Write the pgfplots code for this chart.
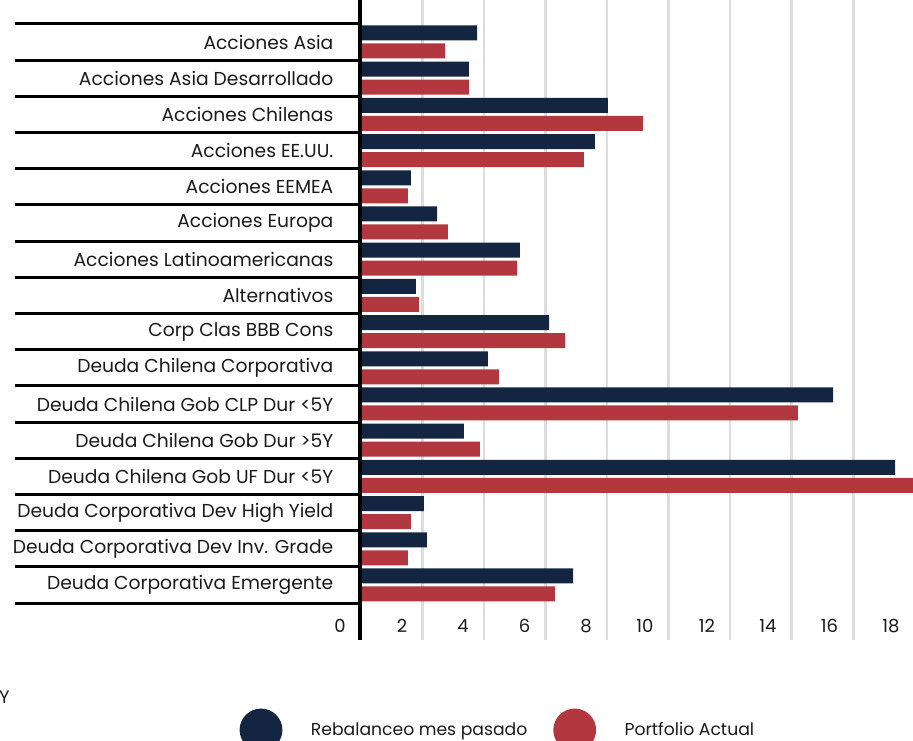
\documentclass[border=0pt]{standalone}
\usepackage{pgfplots}
\pgfplotsset{compat=1.18}
\usepackage{fontspec}
\setmainfont{Poppins}
\definecolor{navy}{HTML}{142542}
\definecolor{brick}{HTML}{B3373E}
\definecolor{gridgray}{HTML}{DDDDDD}
\definecolor{txt}{HTML}{1A1A1A}
\begin{document}
\begin{tikzpicture}
\path[use as bounding box] (0pt,0pt) rectangle (913pt,741pt);
\begin{axis}[
  at={(360.8pt,101pt)}, anchor=south west,
  scale only axis, width=553.9pt, height=640pt,
  xmin=0, xmax=18, ymin=-1.52, ymax=16.16,
  clip=false,
  axis line style={draw=none},
  tick style={draw=none},
  xtick={0,2,...,18},
  xmajorgrids, grid style={gridgray, line width=2.7pt},
  ytick={0,...,15},
  yticklabels={Deuda Corporativa Emergente, Deuda Corporativa Dev Inv. Grade,
    Deuda Corporativa Dev High Yield, Deuda Chilena Gob UF Dur <5Y,
    Deuda Chilena Gob Dur >5Y, Deuda Chilena Gob CLP Dur <5Y,
    Deuda Chilena Corporativa, Corp Clas BBB Cons, Alternativos,
    Acciones Latinoamericanas, Acciones Europa, Acciones EEMEA,
    Acciones EE.UU., Acciones Chilenas, Acciones Asia Desarrollado, Acciones Asia},
  /pgf/number format/assume math mode=true,
  every tick label/.append style={text=txt},
  xticklabel style={font=\fontsize{18}{20}\selectfont, anchor=base east, inner sep=0pt, xshift=-15pt, yshift=7.3pt},
  yticklabel style={font=\fontsize{18.7}{21}\selectfont, inner sep=0pt, xshift=-23pt},
  xbar, bar width=15pt,
  legend columns=2,
  legend style={at={(-0.2188,-0.1406)}, anchor=west, draw=none, fill=none,
    inner sep=0pt, outer sep=0pt,
    font=\fontsize{17.2}{20}\selectfont, text=txt,
    /tikz/every odd column/.append style={column sep=26.5pt},
    /tikz/every even column/.append style={column sep=24pt}},
  legend image code/.code={\fill[#1] (0pt,0pt) circle (21.4pt);},
]
\addplot[draw=none, fill=navy, bar shift=9pt] coordinates {
  (6.90,0) (2.15,1) (2.05,2) (17.36,3) (3.35,4) (15.35,5) (4.13,6) (6.12,7)
  (1.79,8) (5.17,9) (2.48,10) (1.63,11) (7.61,12) (8.03,13) (3.51,14) (3.78,15)
};
\addlegendentry{Rebalanceo mes pasado}
\addplot[draw=none, fill=brick, bar shift=-9pt] coordinates {
  (6.31,0) (1.53,1) (1.63,2) (18.3,3) (3.87,4) (14.20,5) (4.49,6) (6.64,7)
  (1.89,8) (5.08,9) (2.83,10) (1.53,11) (7.25,12) (9.17,13) (3.51,14) (2.74,15)
};
\addlegendentry{Portfolio Actual}
\end{axis}
% row separators and the zero line
\foreach \i in {0,...,16}
  \draw[line width=3pt, black] (15pt,741pt-23.9pt-\i*36.2pt) -- (359pt,741pt-23.9pt-\i*36.2pt);
\draw[line width=4pt, black] (360pt,101pt) -- (360pt,741pt);
\node[anchor=base west, inner sep=0pt, font=\fontsize{18}{20}\selectfont, text=txt] at (-1pt,741pt-704pt) {Y};
\end{tikzpicture}
\end{document}
